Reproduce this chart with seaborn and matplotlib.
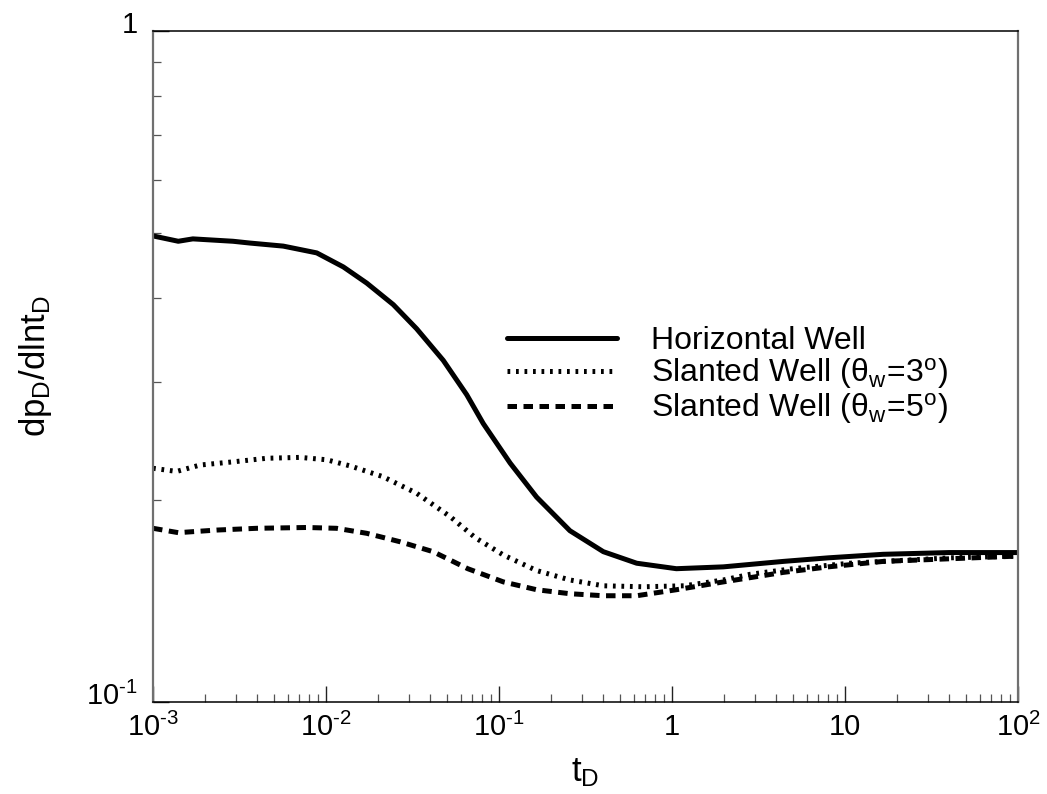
import numpy as np
import pandas as pd
import matplotlib
matplotlib.use("Agg")
import matplotlib.pyplot as plt
import matplotlib.transforms as mtransforms
from matplotlib.ticker import FixedLocator, FixedFormatter, LogLocator, NullFormatter
import seaborn as sns

# ---- data ----
t_horiz = [1.0e-3, 1.4e-3, 1.7e-3, 2.9e-3, 3.64e-3, 5.66e-3, 8.84e-3, 1.26e-2, 1.72e-2, 2.45e-2,
           3.34e-2, 4.76e-2, 6.51e-2, 8.11e-2, 0.116, 0.165, 0.257, 0.401, 0.625, 1.06, 1.98,
           4.39, 8.0, 16.6, 40.0, 100.0]
v_horiz = [0.495, 0.486, 0.490, 0.486, 0.483, 0.478, 0.467, 0.445, 0.421, 0.391,
           0.360, 0.323, 0.287, 0.260, 0.227, 0.202, 0.180, 0.1675, 0.161, 0.158, 0.159,
           0.162, 0.164, 0.166, 0.167, 0.167]

t_slant3 = [1.0e-3, 1.37e-3, 1.87e-3, 2.91e-3, 4.54e-3, 7.08e-3, 1.01e-2, 1.38e-2, 2.13e-2,
            3.34e-2, 5.21e-2, 7.3e-2, 0.106, 0.165, 0.257, 0.401, 0.683, 1.18, 1.98, 2.83,
            5.0, 10.7, 40.5, 100.0]
v_slant3 = [0.223, 0.2206, 0.2255, 0.228, 0.2308, 0.2315, 0.2296, 0.2248, 0.2167,
            0.2047, 0.189, 0.1757, 0.1656, 0.157, 0.152, 0.149, 0.1485, 0.149, 0.152, 0.155,
            0.158, 0.161, 0.164, 0.165]

t_slant5 = [1.0e-3, 1.40e-3, 2.33e-3, 3.98e-3, 7.74e-3, 1.15e-2, 1.72e-2, 2.68e-2, 4.16e-2,
            6.6e-2, 0.106, 0.165, 0.257, 0.401, 0.625, 1.06, 1.98, 4.39, 8.0, 16.6, 100.0]
v_slant5 = [0.1815, 0.1788, 0.1804, 0.1815, 0.182, 0.1815, 0.1784, 0.1733, 0.1675,
            0.158, 0.151, 0.147, 0.145, 0.144, 0.144, 0.147, 0.151, 0.156, 0.159, 0.162, 0.165]

labels = ["Horizontal Well",
          r"$\mathregular{Slanted\ Well\ (θ_w\!=\!3^o)}$",
          r"$\mathregular{Slanted\ Well\ (θ_w\!=\!5^o)}$"]

x_ticks = [1e-3, 1e-2, 1e-1, 1, 10, 100]
x_ticklabels = [r"$\mathregular{10^{‐3}}$", r"$\mathregular{10^{‐2}}$", r"$\mathregular{10^{‐1}}$",
                "1", "10", r"$\mathregular{10^{2}}$"]
y_ticks = [0.1, 1]
y_ticklabels = [r"$\mathregular{10^{‐1}}$", "1"]

# ---- style ----
sns.set_style("white")
plt.rcParams["font.family"] = ["Liberation Sans", "DejaVu Sans"]
plt.rcParams["mathtext.fontset"] = "custom"
plt.rcParams["mathtext.rm"] = "Liberation Sans"
plt.rcParams["mathtext.it"] = "Liberation Sans:italic"
plt.rcParams["mathtext.bf"] = "Liberation Sans:bold"
for k in ["text.color", "axes.labelcolor", "xtick.color", "ytick.color"]:
    plt.rcParams[k] = "black"

FS_TICK = 21
FS_LEG = 23
FS_LAB = 25

fig = plt.figure(figsize=(10.47, 7.94), dpi=100)
ax = fig.add_axes([153 / 1047, 92 / 794, 865 / 1047, 671 / 794])

df_h = pd.DataFrame({"t": t_horiz, "v": v_horiz})
df_3 = pd.DataFrame({"t": t_slant3, "v": v_slant3})
df_5 = pd.DataFrame({"t": t_slant5, "v": v_slant5})

lw = 3.6
sns.lineplot(data=df_h, x="t", y="v", ax=ax, color="black", linewidth=lw,
             linestyle="-", label=labels[0], errorbar=None, sort=False)
sns.lineplot(data=df_3, x="t", y="v", ax=ax, color="black", linewidth=lw,
             linestyle=(0, (0.55, 1.15)), label=labels[1], errorbar=None, sort=False,
             dash_capstyle="butt")
sns.lineplot(data=df_5, x="t", y="v", ax=ax, color="black", linewidth=lw,
             linestyle=(0, (1.9, 1.3)), label=labels[2], errorbar=None, sort=False,
             dash_capstyle="butt")

ax.set_xscale("log")
ax.set_yscale("log")
ax.set_xlim(1e-3, 100)
ax.set_ylim(0.1, 1)

ax.xaxis.set_major_locator(FixedLocator(x_ticks))
ax.xaxis.set_major_formatter(FixedFormatter(x_ticklabels))
ax.xaxis.set_minor_locator(LogLocator(base=10, subs=np.arange(2, 10), numticks=20))
ax.xaxis.set_minor_formatter(NullFormatter())
ax.yaxis.set_major_locator(FixedLocator(y_ticks))
ax.yaxis.set_major_formatter(FixedFormatter(y_ticklabels))
ax.yaxis.set_minor_locator(LogLocator(base=10, subs=np.arange(2, 10), numticks=20))
ax.yaxis.set_minor_formatter(NullFormatter())

ax.tick_params(which="major", direction="in", length=11.5, width=1.0, color="#222222",
               labelsize=FS_TICK, bottom=True, left=True, top=False, right=False)
ax.tick_params(which="minor", direction="in", length=5.8, width=0.9, color="#555555",
               bottom=True, left=True, top=False, right=False)
ax.tick_params(axis="x", which="major", pad=8)
ax.tick_params(axis="y", which="major", pad=11)

for side, col, w in [("left", "#707070", 1.6), ("right", "#707070", 1.6),
                     ("bottom", "black", 1.1), ("top", "black", 1.1)]:
    ax.spines[side].set_visible(True)
    ax.spines[side].set_color(col)
    ax.spines[side].set_linewidth(w)

# shift y tick labels up a little, as in the reference
offset = mtransforms.ScaledTranslation(0, 9 / 100, fig.dpi_scale_trans)
for lab in ax.get_yticklabels():
    lab.set_transform(lab.get_transform() + offset)

ax.set_xlabel(r"$\mathregular{t_D}$", fontsize=FS_LAB)
ax.set_ylabel(r"$\mathregular{dp_D/dlnt_D}$", fontsize=FS_LAB)
ax.xaxis.set_label_coords(0.5, -0.08)
ax.yaxis.set_label_coords(-0.115, 0.5)

leg = ax.legend(loc="upper left", bbox_to_anchor=(0.409, 0.560), frameon=False,
                fontsize=FS_LEG, handlelength=3.45, handletextpad=1.05, labelspacing=0.0,
                borderpad=0, borderaxespad=0)

fig.savefig("out.png", dpi=100)
